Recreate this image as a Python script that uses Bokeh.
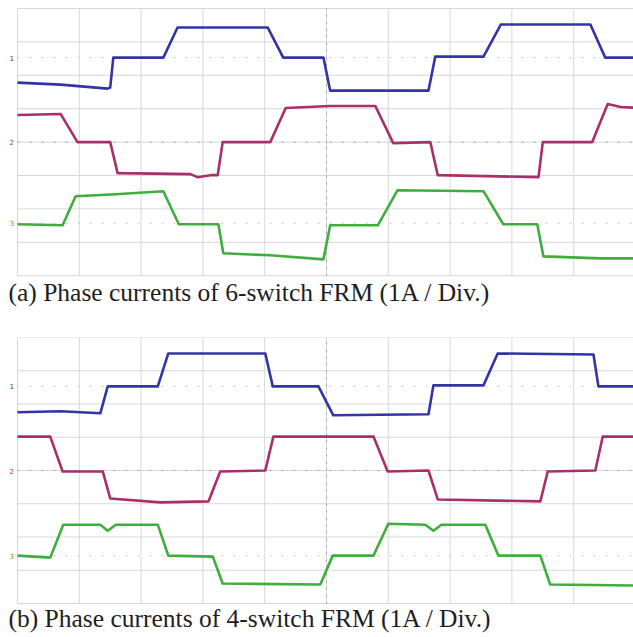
from bokeh.plotting import figure
from bokeh.layouts import column
from bokeh.models import Label, Range1d
from bokeh.embed import file_html
from bokeh.resources import INLINE
import numpy as np

# ---------------- data (time in divisions, current in A, 1 A/div) ----------------
# Panel (a): 6-switch FRM
a_blue_t = [0.00, 0.70, 1.46, 1.50, 1.55, 2.36, 2.59, 4.05, 4.30, 4.95, 5.06, 6.65, 6.76, 7.54, 7.82, 9.27, 9.51, 10.08]
a_blue_i = [-0.75, -0.81, -0.93, -0.90, 0.00, 0.00, 0.90, 0.90, 0.00, 0.00, -0.99, -0.99, 0.03, 0.03, 0.99, 0.99, 0.00, 0.00]

a_mag_t = [0.00, 0.70, 0.97, 1.50, 1.62, 2.80, 2.91, 3.12, 3.24, 3.32, 4.09, 4.34, 5.06, 5.79, 6.08, 6.68, 6.80, 8.43, 8.50, 9.30, 9.55, 9.76, 10.08]
a_mag_i = [0.81, 0.84, 0.00, 0.00, -0.93, -0.96, -1.05, -0.99, -0.99, 0.00, 0.00, 1.02, 1.08, 1.08, -0.03, 0.00, -0.99, -1.05, 0.00, 0.00, 1.14, 1.05, 1.02]

a_grn_t = [0.00, 0.73, 0.94, 1.59, 2.36, 2.61, 3.25, 3.33, 4.09, 4.95, 5.06, 5.83, 6.15, 7.54, 7.86, 8.41, 8.51, 9.43, 10.08]
a_grn_i = [-0.03, -0.06, 0.81, 0.87, 0.96, -0.03, -0.03, -0.90, -0.96, -1.08, -0.06, -0.06, 0.99, 0.96, -0.03, -0.03, -0.99, -1.05, -1.05]

# Panel (b): 4-switch FRM
b_blue_t = [0.00, 0.70, 1.34, 1.46, 2.27, 2.44, 4.01, 4.13, 4.87, 5.11, 6.65, 6.73, 7.54, 7.77, 9.32, 9.40, 10.08]
b_blue_i = [-0.78, -0.75, -0.81, 0.00, 0.00, 0.99, 0.99, 0.00, 0.00, -0.87, -0.84, 0.03, 0.03, 0.99, 0.96, 0.00, 0.00]

b_mag_t = [0.00, 0.53, 0.73, 1.38, 1.50, 2.31, 3.09, 3.28, 4.01, 4.14, 5.76, 5.99, 6.65, 6.80, 8.46, 8.58, 9.35, 9.47, 10.08]
b_mag_i = [1.02, 1.02, -0.03, -0.03, -0.84, -0.96, -0.93, -0.03, 0.00, 1.02, 1.02, -0.03, 0.00, -0.87, -0.93, -0.03, 0.00, 1.02, 1.02]

b_grn_t = [0.00, 0.53, 0.74, 1.34, 1.46, 1.59, 2.27, 2.44, 3.16, 3.32, 4.90, 5.10, 5.76, 6.00, 6.60, 6.73, 6.86, 7.57, 7.78, 8.46, 8.62, 10.08]
b_grn_i = [0.00, -0.06, 0.93, 0.93, 0.75, 0.93, 0.93, 0.00, -0.03, -0.84, -0.87, 0.00, 0.00, 0.96, 0.93, 0.75, 0.93, 0.93, 0.00, 0.00, -0.87, -0.90]

captions = ["(a) Phase currents of 6-switch FRM (1A / Div.)",
            "(b) Phase currents of 4-switch FRM (1A / Div.)"]
channel_labels = ["1", "2", "3"]

# graticule: 10 x 8 divisions
grid_x = list(range(0, 11))
grid_y = list(range(-4, 5))

# ---------------- styling ----------------
COLORS = ["#3434a4", "#a8306a", "#3fae3f"]
OFFSETS_A = [2.53, 0.0, -2.43]
OFFSETS_B = [2.53, 0.0, -2.56]
GRID_COLOR = "#d8d8d8"
W = 633
LEFT = 17       # frame-left pixel of graticule
DX = 61.8       # pixels per horizontal division


def make_panel(height, top_px, dy, traces, offsets, caption, cap_base_from_bottom):
    # whole canvas is the frame; ranges in division units
    x0 = -LEFT / DX
    x1 = (W - LEFT) / DX
    ytop = 4 + top_px / dy
    ybot = ytop - height / dy
    p = figure(width=W, height=height,
               x_range=Range1d(x0, x1), y_range=Range1d(ybot, ytop),
               x_axis_type=None, y_axis_type=None,
               toolbar_location=None, output_backend="svg",
               min_border=0, outline_line_color=None,
               background_fill_color="white", border_fill_color="white")
    # graticule
    p.segment(x0=grid_x, y0=[-4] * len(grid_x), x1=grid_x, y1=[4] * len(grid_x),
              line_color=GRID_COLOR, line_width=1)
    p.segment(x0=[0] * len(grid_y), y0=grid_y, x1=[10.5] * len(grid_y), y1=grid_y,
              line_color=GRID_COLOR, line_width=1)
    # centre graticule lines with small tick dots
    p.line([0, 10.5], [0, 0], line_color="#a0a0a0", line_width=1, line_dash="2 10")
    p.line([5, 5], [-4, 4], line_color="#a0a0a0", line_width=1, line_dash="2 5")
    # channel ground reference lines
    for off in offsets:
        if off != 0.0:
            p.line([0, 10.5], [off, off], line_color="#c8c8c8", line_width=1, line_dash="2 10")
    for (t, i), col, off, lab in zip(traces, COLORS, offsets, channel_labels):
        p.line(t, np.array(i) + off, line_color=col, line_width=2.6, line_join="round")
        p.add_layout(Label(x=9, y=off, x_units="screen", y_units="data", text=lab,
                           text_font="DejaVu Sans", text_font_size="7px", text_color=col,
                           text_baseline="middle", text_align="left"))
    p.add_layout(Label(x=8, y=cap_base_from_bottom, x_units="screen", y_units="screen",
                       text=caption, text_font="Liberation Serif", text_font_size="25.5px",
                       text_color="#1e1e1e", text_baseline="alphabetic", text_align="left"))
    return p


p1 = make_panel(337, 8, 33.4,
                [(a_blue_t, a_blue_i), (a_mag_t, a_mag_i), (a_grn_t, a_grn_i)],
                OFFSETS_A, captions[0], 45)
p2 = make_panel(300, 0, 33.25,
                [(b_blue_t, b_blue_i), (b_mag_t, b_mag_i), (b_grn_t, b_grn_i)],
                OFFSETS_B, captions[1], 19)

layout = column(p1, p2, spacing=0)
open("out.html", "w").write(file_html(layout, INLINE))
